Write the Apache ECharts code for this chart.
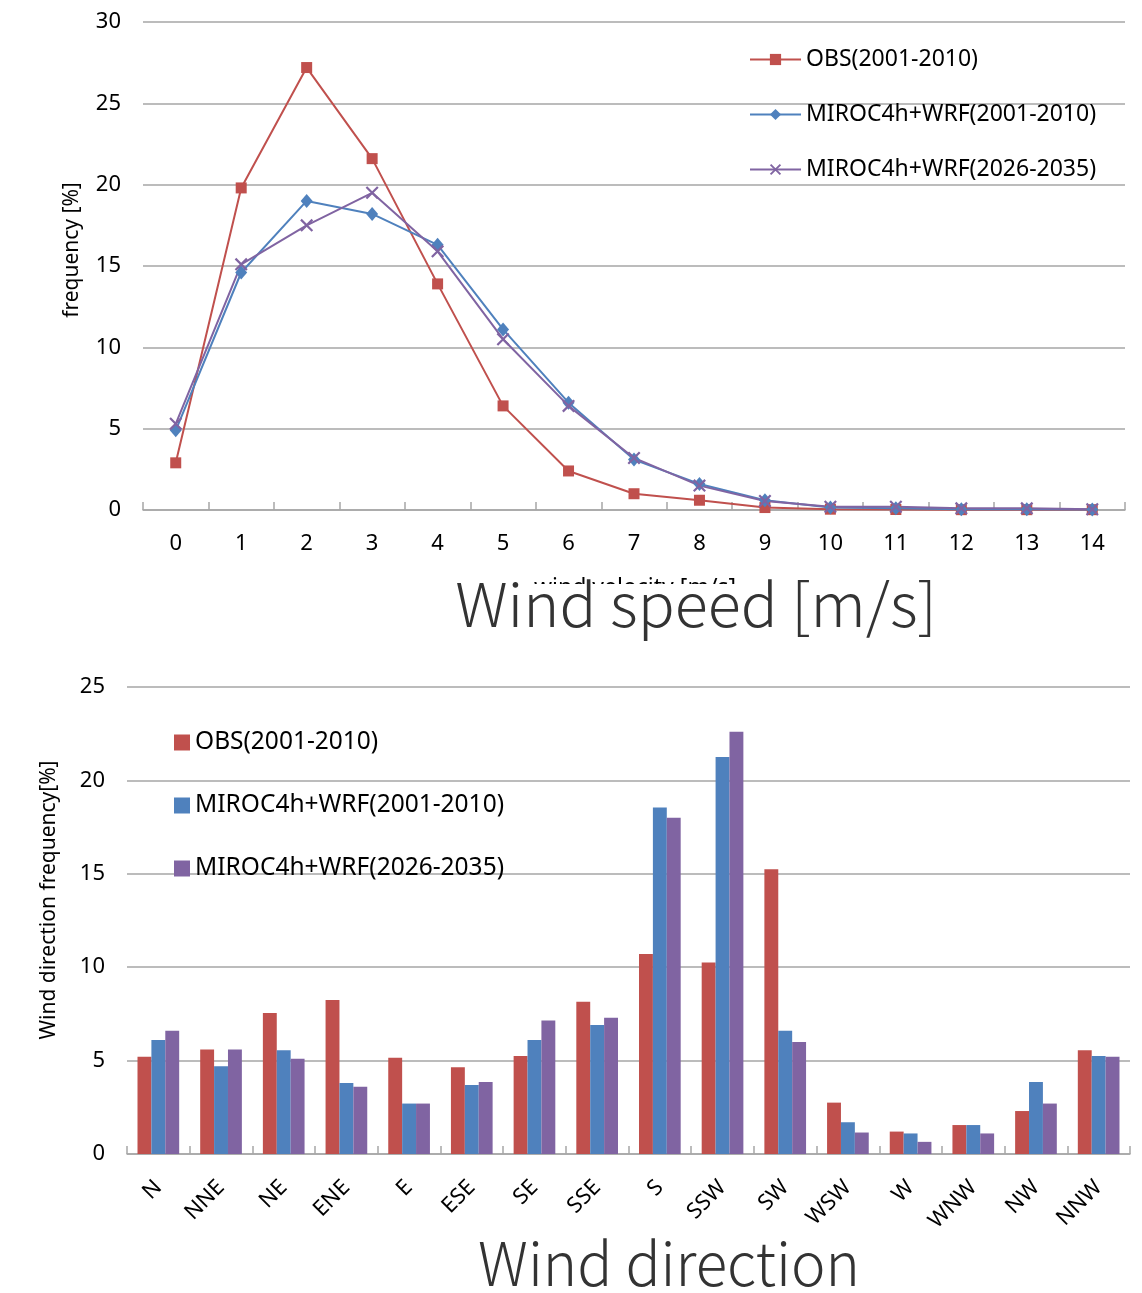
<!DOCTYPE html>
<html>
<head>
<meta charset="utf-8">
<script src="https://cdn.jsdelivr.net/npm/echarts@6/dist/echarts.min.js"></script>
<style>
html,body{margin:0;padding:0;background:#fff;}
#chart{width:1142px;height:1293px;}
</style>
</head>
<body>
<div id="chart"></div>
<script>
// ---- Data: wind speed distribution ----
var speedCategories = ['0','1','2','3','4','5','6','7','8','9','10','11','12','13','14'];
var obsSpeed      = [2.9, 19.8, 27.2, 21.6, 13.9, 6.4, 2.4, 1.0, 0.6, 0.15, 0.05, 0.03, 0.02, 0.02, 0.02];
var miroc2001Speed = [4.9, 14.6, 19.0, 18.2, 16.3, 11.1, 6.6, 3.1, 1.6, 0.6, 0.15, 0.1, 0.05, 0.05, 0.03];
var miroc2026Speed = [5.3, 15.1, 17.5, 19.5, 15.9, 10.5, 6.4, 3.2, 1.5, 0.55, 0.2, 0.2, 0.1, 0.1, 0.05];

// ---- Data: wind direction distribution ----
var directionCategories = ['N','NNE','NE','ENE','E','ESE','SE','SSE','S','SSW','SW','WSW','W','WNW','NW','NNW'];
var obsDir       = [5.2, 5.6, 7.55, 8.25, 5.15, 4.65, 5.25, 8.15, 10.7, 10.25, 15.25, 2.75, 1.2, 1.55, 2.3, 5.55];
var miroc2001Dir = [6.1, 4.7, 5.55, 3.8, 2.7, 3.7, 6.1, 6.9, 18.55, 21.25, 6.6, 1.7, 1.1, 1.55, 3.85, 5.25];
var miroc2026Dir = [6.6, 5.6, 5.1, 3.6, 2.7, 3.85, 7.15, 7.3, 18.0, 22.6, 6.0, 1.15, 0.65, 1.1, 2.7, 5.2];

var seriesNames = ['OBS(2001-2010)', 'MIROC4h+WRF(2001-2010)', 'MIROC4h+WRF(2026-2035)'];
var speedTicks = [0, 30, 5];
var dirTicks = [0, 25, 5];

var RED = '#c0504d', BLUE = '#4f81bd', PURPLE = '#8064a2';
var GRID = '#a6a6a6';
var FONT = 'Noto Sans';
var crossPath = 'path://M0,1.2L1.2,0L10,8.8L8.8,10Z M8.8,0L10,1.2L1.2,10L0,8.8Z';

var chart = echarts.init(document.getElementById('chart'));

var catAxisBase = {
  type: 'category',
  boundaryGap: true,
  axisLine: {show: true, lineStyle: {color: GRID, width: 1.5}},
  axisTick: {show: true, inside: true, length: 8, alignWithLabel: false, lineStyle: {color: GRID, width: 1.5}},
  splitLine: {show: false}
};
var valAxisBase = {
  type: 'value',
  axisLine: {show: false},
  axisTick: {show: false},
  splitLine: {show: true, lineStyle: {color: GRID, width: 1.5}},
  axisLabel: {color: '#000', fontSize: 22, fontFamily: FONT, margin: 22}
};

function legendItem(name, left, top, opts) {
  return Object.assign({data: [name], left: left, top: top, orient: 'vertical', itemGap: 0,
    textStyle: {fontSize: 23, fontFamily: FONT, color: '#000'}}, opts);
}

var option = {
  backgroundColor: '#fff',
  animation: false,
  grid: [
    {left: 143, top: 22, width: 982, height: 488},
    {left: 127, top: 687, width: 1003, height: 467}
  ],
  xAxis: [
    Object.assign({}, catAxisBase, {
      gridIndex: 0,
      data: speedCategories,
      axisLabel: {color: '#000', fontSize: 22, fontFamily: FONT, margin: 23}
    }),
    Object.assign({}, catAxisBase, {
      gridIndex: 1,
      data: directionCategories,
      axisLabel: {color: '#000', fontSize: 22, fontFamily: FONT, rotate: 45, margin: 30}
    })
  ],
  yAxis: [
    Object.assign({}, valAxisBase, {gridIndex: 0, min: speedTicks[0], max: speedTicks[1], interval: speedTicks[2]}),
    Object.assign({}, valAxisBase, {gridIndex: 1, min: dirTicks[0], max: dirTicks[1], interval: dirTicks[2]})
  ],
  legend: [
    legendItem(seriesNames[0], 744, 43, {itemWidth: 51, itemHeight: 14}),
    legendItem(seriesNames[1], 744, 98, {itemWidth: 51, itemHeight: 14}),
    legendItem(seriesNames[2], 744, 153, {itemWidth: 51, itemHeight: 14}),
    legendItem({name: seriesNames[0] + ' ', icon: 'rect'}, 169, 725,
      {itemWidth: 16, itemHeight: 16, formatter: function(n){return n.trim();}, textStyle: {fontSize: 24.5, fontFamily: FONT, color: '#000'}}),
    legendItem({name: seriesNames[1] + ' ', icon: 'rect'}, 169, 788,
      {itemWidth: 16, itemHeight: 16, formatter: function(n){return n.trim();}, textStyle: {fontSize: 24.5, fontFamily: FONT, color: '#000'}}),
    legendItem({name: seriesNames[2] + ' ', icon: 'rect'}, 169, 851,
      {itemWidth: 16, itemHeight: 16, formatter: function(n){return n.trim();}, textStyle: {fontSize: 24.5, fontFamily: FONT, color: '#000'}})
  ],
  series: [
    {name: seriesNames[0], type: 'line', xAxisIndex: 0, yAxisIndex: 0, data: obsSpeed,
     symbol: 'rect', symbolSize: 11, lineStyle: {color: RED, width: 2}, itemStyle: {color: RED}},
    {name: seriesNames[1], type: 'line', xAxisIndex: 0, yAxisIndex: 0, data: miroc2001Speed,
     symbol: 'diamond', symbolSize: [12, 14], lineStyle: {color: BLUE, width: 2}, itemStyle: {color: BLUE}},
    {name: seriesNames[2], type: 'line', xAxisIndex: 0, yAxisIndex: 0, data: miroc2026Speed,
     symbol: crossPath, symbolSize: 13, lineStyle: {color: PURPLE, width: 2}, itemStyle: {color: PURPLE}},
    {name: seriesNames[0] + ' ', type: 'bar', xAxisIndex: 1, yAxisIndex: 1, data: obsDir,
     barGap: '0%', barCategoryGap: '33.5%', itemStyle: {color: RED}},
    {name: seriesNames[1] + ' ', type: 'bar', xAxisIndex: 1, yAxisIndex: 1, data: miroc2001Dir,
     barGap: '0%', barCategoryGap: '33.5%', itemStyle: {color: BLUE}},
    {name: seriesNames[2] + ' ', type: 'bar', xAxisIndex: 1, yAxisIndex: 1, data: miroc2026Dir,
     barGap: '0%', barCategoryGap: '33.5%', itemStyle: {color: PURPLE}}
  ],
  graphic: [
    {type: 'text', x: 72, y: 250, rotation: Math.PI / 2,
     style: {text: 'frequency [%]', fontSize: 21, fontFamily: FONT, fill: '#000', align: 'center', verticalAlign: 'middle'}},
    {type: 'text', x: 49, y: 900, rotation: Math.PI / 2,
     style: {text: 'Wind direction frequency[%]', fontSize: 21, fontFamily: FONT, fill: '#000', align: 'center', verticalAlign: 'middle'}},
    {type: 'text', x: 635, y: 588,
     style: {text: 'wind velocity [m/s]', fontSize: 23, fontFamily: FONT, fill: '#000', align: 'center', verticalAlign: 'middle'}},
    {type: 'rect', shape: {x: 440, y: 584, width: 510, height: 56}, style: {fill: '#fff'}},
    {type: 'text', x: 696, y: 604, scaleX: 1.02,
     style: {text: 'Wind speed [m/s]', fontSize: 60, fontWeight: 300, fontFamily: 'Noto Sans CJK JP', fill: '#333', align: 'center', verticalAlign: 'middle'}},
    {type: 'text', x: 669, y: 1263, scaleX: 0.97,
     style: {text: 'Wind direction', fontSize: 60, fontWeight: 300, fontFamily: 'Noto Sans CJK JP', fill: '#333', align: 'center', verticalAlign: 'middle'}}
  ]
};
chart.setOption(option);
</script>
</body>
</html>
